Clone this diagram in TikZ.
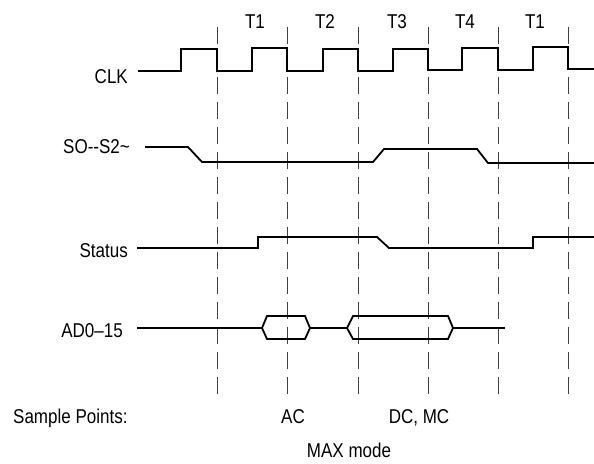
\documentclass[tikz,border=0pt]{standalone}
\usepackage{fontspec}
\setmainfont{Liberation Sans}[FakeStretch=0.85]
\begin{document}
\begin{tikzpicture}[x=1pt,y=-1pt,
  wave/.style={line width=1.8pt,line join=miter},
  guide/.style={line width=0.7pt,black!75,dash pattern=on 17pt off 8pt},
  lbl/.style={inner sep=0pt,font=\fontsize{20}{24}\selectfont}]
\useasboundingbox (0,0) rectangle (594,463);
% guide lines
\foreach \x/\n in {217/a,287/b,358/c,428/d,498/e,568/f}{
  \coordinate (g\n top) at (\x,27);
  \coordinate (g\n bot) at (\x,395);
  \draw[guide] (g\n top) -- (g\n bot);
}
% phase labels
\node[lbl,anchor=base] (t1) at (255,28) {T1};
\node[lbl,anchor=base] (t2) at (325,28) {T2};
\node[lbl,anchor=base] (t3) at (397,28) {T3};
\node[lbl,anchor=base] (t4) at (465,28) {T4};
\node[lbl,anchor=base] (t5) at (535,28) {T1};
% signal labels
\node[lbl,anchor=base east] (clk) at (128,83) {CLK};
\node[lbl,anchor=base east] (so) at (130,153) {SO{-}{-}S2\textasciitilde};
\node[lbl,anchor=base east] (st) at (128,257) {Status};
\node[lbl,anchor=base east] (ad) at (123,337) {AD0--15};
\node[lbl,anchor=base west] (sp) at (13,423) {Sample Points:};
\node[lbl,anchor=base] (ac) at (293,423) {AC};
\node[lbl,anchor=base] (dc) at (419,423) {DC, MC};
\node[lbl,anchor=base] (mm) at (349,457) {MAX mode};
% CLK
\draw[wave] (138,71) -- (181,71) -- (181,49) -- (217,49) -- (217,71)
  -- (252,71) -- (252,48) -- (287,48) -- (287,71)
  -- (323,71) -- (323,49) -- (358,49) -- (358,71)
  -- (393,71) -- (393,49) -- (428,49) -- (428,70)
  -- (462,70) -- (462,48) -- (498,48) -- (498,70)
  -- (533,70) -- (533,47) -- (568,47) -- (568,69) -- (594,69);
% SO--S2~
\draw[wave] (145,147) -- (188,147) -- (202,162) -- (373,162) -- (384,149)
  -- (477,149) -- (488,163) -- (594,163);
% Status
\draw[wave] (137,248) -- (258,248) -- (258,237) -- (377,237) -- (389,248)
  -- (533,248) -- (533,237) -- (594,237);
% AD0-15
\draw[wave] (137,328) -- (262,328);
\draw[wave] (262,328) -- (267,316) -- (305,316) -- (310,328) -- (305,339) -- (267,339) -- cycle;
\draw[wave] (310,328) -- (347,328);
\draw[wave] (347,328) -- (353,316) -- (448,316) -- (453,328) -- (448,339) -- (353,339) -- cycle;
\draw[wave] (453,328) -- (505,328);
\end{tikzpicture}
\end{document}
